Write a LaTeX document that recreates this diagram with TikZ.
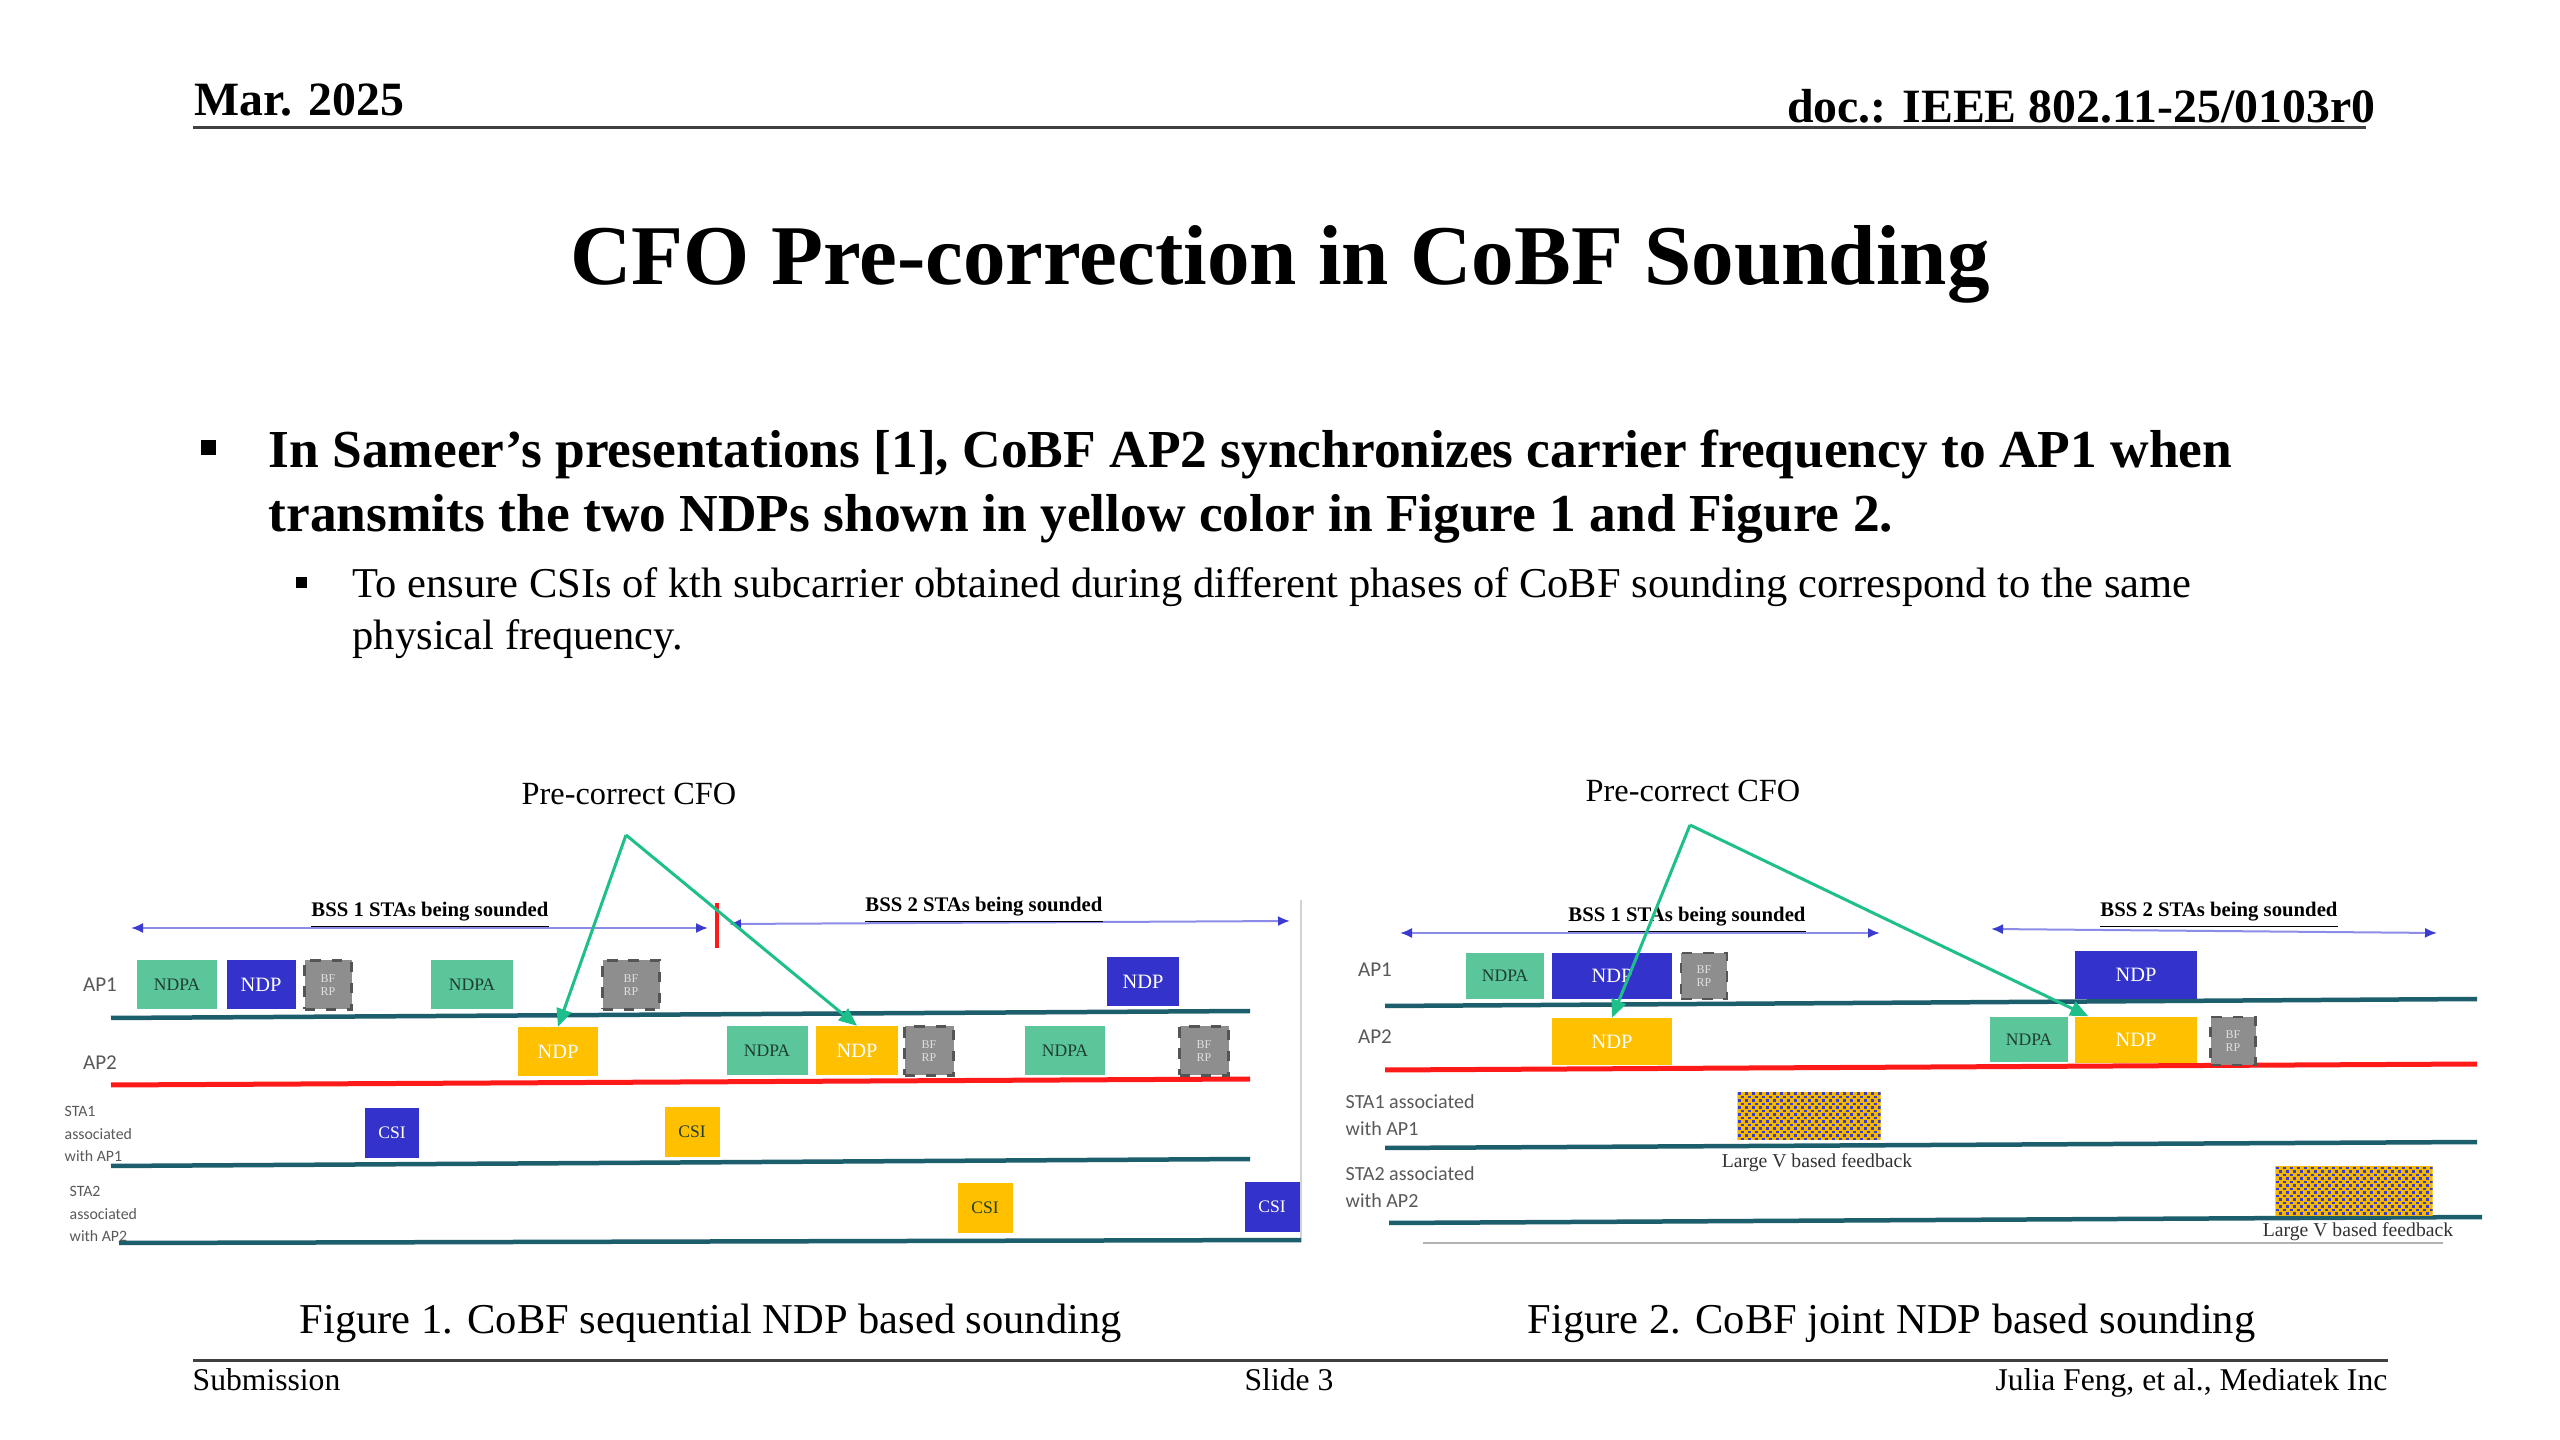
\documentclass[tikz,border=0pt]{standalone}
\usepackage{fontspec}
\setmainfont{Liberation Serif}
\newfontfamily\lblfont{Carlito}
\usetikzlibrary{arrows.meta, positioning, calc}

\definecolor{ndpagreen}{HTML}{5CC69B}
\definecolor{ndpatext}{HTML}{1E3D30}
\definecolor{ndpblue}{HTML}{3333CC}
\definecolor{ndpyellow}{HTML}{FFC000}
\definecolor{bfgray}{HTML}{8E8E8E}
\definecolor{bfedge}{HTML}{555555}
\definecolor{tealline}{HTML}{1C5E6C}
\definecolor{apred}{HTML}{FF1A1A}
\definecolor{cfogreen}{HTML}{1FBF8C}
\definecolor{bssblue}{HTML}{3B3BD0}
\definecolor{bssline}{HTML}{8C8CE8}
\definecolor{lblgray}{HTML}{595959}
\definecolor{fbyellow}{HTML}{F4B800}
\definecolor{fbblue}{HTML}{3A3ACC}

\tikzset{
pkt/.style={
    rectangle,
    inner sep=0pt,
    minimum height=4.9mm,
    font=\fontsize{5}{6}\selectfont
},
ndpa/.style={pkt, fill=ndpagreen, text=ndpatext},
ndpb/.style={pkt, fill=ndpblue, text=white, font=\fontsize{5.8}{7}\selectfont},
ndpy/.style={pkt, fill=ndpyellow, text=white, font=\fontsize{5.8}{7}\selectfont},
bfrp/.style={pkt, fill=bfgray, draw=bfedge, dashed, line width=0.25mm, text=gray!25,
    align=center, font=\fontsize{3.4}{3.9}\selectfont},
csib/.style={pkt, fill=ndpblue, text=white, minimum height=5mm},
csiy/.style={pkt, fill=ndpyellow, text=ndpatext, minimum height=5mm},
fbbox/.style={rectangle, inner sep=0pt},
tline/.style={tealline, line width=0.45mm},
redline/.style={apred, line width=0.5mm},
cfoarrow/.style={cfogreen, line width=0.3mm, ->},
bssarrow/.style={bssline, line width=0.2mm,
    {Latex[length=1.2mm, width=1mm, color=bssblue]}-{Latex[length=1.2mm, width=1mm, color=bssblue]}},
bsslbl/.style={anchor=base, font=\bfseries\fontsize{5.9}{7}\selectfont},
aplbl/.style={text=lblgray, font=\lblfont\fontsize{6}{7}\selectfont},
stalbl/.style={aplbl, anchor=north west, align=left},
fblbl/.style={font=\fontsize{5.6}{7}\selectfont, text=black!80}
}

\begin{document}
\begin{tikzpicture}[
        x=0.1mm, y=-0.1mm,
        inner sep=0pt,
        >={Triangle[length=1.8mm, width=1.5mm]}
    ]
    \fill[white] (0,0) rectangle (2560,1440);
    \useasboundingbox (0,0) rectangle (2560,1440);

    % header and title
    \node[anchor=base west, font=\bfseries\fontsize{13.6}{16}\selectfont] (date) at (194,116) {Mar. 2025};
    \node[anchor=base east, font=\bfseries\fontsize{13.6}{16}\selectfont] (docid) at (2376,123) {doc.: IEEE 802.11-25/0103r0};
    \draw[black!75, line width=0.3mm] (193,128) -- (2366,128);
    \node[anchor=base, font=\bfseries\fontsize{24.2}{29}\selectfont] (title) at (1280,285) {CFO Pre-correction in CoBF Sounding};

    % bullets
    \node[fill=black, minimum size=1.5mm] (bulA) at (208,448) {};
    \node[anchor=base west, font=\bfseries\fontsize{15.2}{18}\selectfont] (txtA) at (268,468) {In Sameer’s presentations [1], CoBF AP2 synchronizes carrier frequency to AP1 when};
    \node[anchor=base west, font=\bfseries\fontsize{15.2}{18}\selectfont] (txtB) at (268,532) {transmits the two NDPs shown in yellow color in Figure 1 and Figure 2.};
    \node[fill=black, minimum size=1.1mm] (bulB) at (301,583) {};
    \node[anchor=base west, font=\fontsize{12.1}{14.5}\selectfont] (txtC) at (352,598) {To ensure CSIs of kth subcarrier obtained during different phases of CoBF sounding correspond to the same};
    \node[anchor=base west, font=\fontsize{12.1}{14.5}\selectfont] (txtD) at (352,650) {physical frequency.};

    % figure 1: time lines
    \draw[gray!35, line width=0.15mm] (1301,900) -- (1301,1242);
    \draw[tline] (111,1018) -- (1250,1011);
    \draw[redline] (111,1085) -- (1250,1079);
    \draw[tline] (111,1166) -- (1250,1159);
    \draw[tline] (119,1243) -- (1301,1240);

    \node[aplbl] (f1ap1) at (100,985) {AP1};
    \node[aplbl] (f1ap2) at (100,1063) {AP2};
    \node[stalbl, font=\lblfont\fontsize{4.5}{6.3}\selectfont] (f1sta1) at (64,1106) {STA1\\associated\\with AP1};
    \node[stalbl, font=\lblfont\fontsize{4.5}{6.3}\selectfont] (f1sta2) at (69,1186) {STA2\\associated\\with AP2};

    % figure 1: frames
    \node[ndpa, minimum width=8mm] (f1ndpaA) at (177,985) {NDPA};
    \node[ndpb, minimum width=6.9mm] (f1ndpbA) at (261,985) {NDP};
    \node[bfrp, minimum width=4.7mm] (f1bfA) at (328,985) {BF\\RP};
    \node[ndpa, minimum width=8.2mm] (f1ndpaB) at (472,985) {NDPA};
    \node[bfrp, minimum width=5.7mm] (f1bfB) at (631,985) {BF\\RP};
    \node[ndpb, minimum width=7.2mm] (f1ndpbB) at (1143,982) {NDP};

    \node[ndpy, minimum width=8mm] (f1ndpyA) at (558,1052) {NDP};
    \node[ndpa, minimum width=8.1mm] (f1ndpaC) at (767,1051) {NDPA};
    \node[ndpy, minimum width=8.2mm] (f1ndpyB) at (857,1051) {NDP};
    \node[bfrp, minimum width=4.9mm] (f1bfC) at (929,1051) {BF\\RP};
    \node[ndpa, minimum width=8mm] (f1ndpaD) at (1065,1051) {NDPA};
    \node[bfrp, minimum width=4.9mm] (f1bfD) at (1204,1051) {BF\\RP};

    \node[csib, minimum width=5.4mm] (f1csiA) at (392,1133) {CSI};
    \node[csiy, minimum width=5.5mm] (f1csiB) at (692,1132) {CSI};
    \node[csiy, minimum width=5.5mm] (f1csiC) at (985,1208) {CSI};
    \node[csib, minimum width=5.5mm] (f1csiD) at (1272,1207) {CSI};

    % figure 1: sounding spans
    \draw[bssarrow] (131,928) -- (708,928);
    \draw[bssarrow] (729,924) -- (1290,921);
    \node[bsslbl] (f1bss1) at (430,917) {\underline{BSS 1 STAs being sounded}};
    \node[bsslbl] (f1bss2) at (984,912) {\underline{BSS 2 STAs being sounded}};
    \draw[apred, line width=0.4mm] (717,903) -- (717,948);

    % figure 1: CFO arrows
    \node[anchor=base, font=\fontsize{9.2}{11}\selectfont] (f1pre) at (629,805) {Pre-correct CFO};
    \coordinate (f1apex) at (626,835);
    \draw[cfoarrow] (f1apex) -- (f1ndpyA.north);
    \draw[cfoarrow] (f1apex) -- (f1ndpyB.north);

    % figure 2: time lines
    \draw[tline] (1385,1006) -- (2477,999);
    \draw[redline] (1385,1070) -- (2477,1064);
    \draw[tline] (1385,1148) -- (2477,1142);
    \draw[tline] (1389,1223) -- (2482,1217);
    \draw[gray!60, line width=0.2mm] (1423,1243) -- (2443,1243);

    \node[aplbl] (f2ap1) at (1375,970) {AP1};
    \node[aplbl] (f2ap2) at (1375,1037) {AP2};
    \node[stalbl, font=\lblfont\fontsize{5.7}{7.7}\selectfont] (f2sta1) at (1345,1094) {STA1 associated\\with AP1};
    \node[stalbl, font=\lblfont\fontsize{5.7}{7.7}\selectfont] (f2sta2) at (1345,1166) {STA2 associated\\with AP2};

    % figure 2: frames
    \node[ndpa, minimum width=7.8mm, minimum height=4.6mm] (f2ndpaA) at (1505,976) {NDPA};
    \node[ndpb, minimum width=12mm, minimum height=4.6mm] (f2ndpbA) at (1612,976) {NDP};
    \node[bfrp, minimum width=4.6mm, minimum height=4.6mm] (f2bfA) at (1704,976) {BF\\RP};
    \node[ndpb, minimum width=12.2mm, minimum height=4.8mm] (f2ndpbB) at (2136,975) {NDP};

    \node[ndpy, minimum width=12mm, minimum height=4.7mm] (f2ndpyA) at (1612,1042) {NDP};
    \node[ndpa, minimum width=7.8mm, minimum height=4.5mm] (f2ndpaB) at (2029,1040) {NDPA};
    \node[ndpy, minimum width=12.2mm, minimum height=4.6mm] (f2ndpyB) at (2136,1040) {NDP};
    \node[bfrp, minimum width=4.5mm, minimum height=4.8mm] (f2bfB) at (2233,1041) {BF\\RP};

    \node[fbbox, minimum width=14.2mm, minimum height=4.7mm] (f2fbA) at (1809,1116) {};
    \node[fbbox, minimum width=15.6mm, minimum height=4.8mm] (f2fbB) at (2354,1191) {};
    \foreach \fb in {f2fbA, f2fbB} {
        \begin{scope}
            \clip (\fb.north west) rectangle (\fb.south east);
            \fill[fbyellow] (\fb.north west) rectangle (\fb.south east);
            \foreach \i in {0,...,22} \foreach \j in {0,...,7} {
                \fill[fbblue] ($(\fb.north west)+(7*\i+0.4,7*\j+0.4)$) rectangle +(2.8,2.8);
                \fill[fbblue] ($(\fb.north west)+(7*\i+3.9,7*\j+3.9)$) rectangle +(2.8,2.8);
            }
        \end{scope}
    }
    \node[fblbl] (f2fbtxtA) at (1817,1163) {Large V based feedback};
    \node[fblbl] (f2fbtxtB) at (2358,1232) {Large V based feedback};

    % figure 2: sounding spans
    \draw[bssarrow] (1400,933) -- (1880,933);
    \draw[bssarrow] (1991,929) -- (2437,933);
    \node[bsslbl] (f2bss1) at (1687,922) {\underline{BSS 1 STAs being sounded}};
    \node[bsslbl] (f2bss2) at (2219,917) {\underline{BSS 2 STAs being sounded}};

    % figure 2: CFO arrows
    \node[anchor=base, font=\fontsize{9.2}{11}\selectfont] (f2pre) at (1693,802) {Pre-correct CFO};
    \coordinate (f2apex) at (1690,825);
    \draw[cfoarrow] (f2apex) -- (f2ndpyA.north);
    \draw[cfoarrow] (f2apex) -- ($(f2ndpyB.north west)+(14,0)$);

    % captions and footer
    \node[anchor=base west, font=\fontsize{12.1}{14.5}\selectfont] (cap1) at (299,1333) {Figure 1. CoBF sequential NDP based sounding};
    \node[anchor=base west, font=\fontsize{12.1}{14.5}\selectfont] (cap2) at (1527,1333) {Figure 2. CoBF joint NDP based sounding};
    \draw[black!75, line width=0.3mm] (193,1360) -- (2388,1360);
    \node[anchor=base west, font=\fontsize{9}{11}\selectfont] (sub) at (192,1390) {Submission};
    \node[anchor=base, font=\fontsize{9}{11}\selectfont] (slide) at (1289,1390) {Slide 3};
    \node[anchor=base east, font=\fontsize{9}{11}\selectfont] (author) at (2388,1390) {Julia Feng, et al., Mediatek Inc};

\end{tikzpicture}
\end{document}
